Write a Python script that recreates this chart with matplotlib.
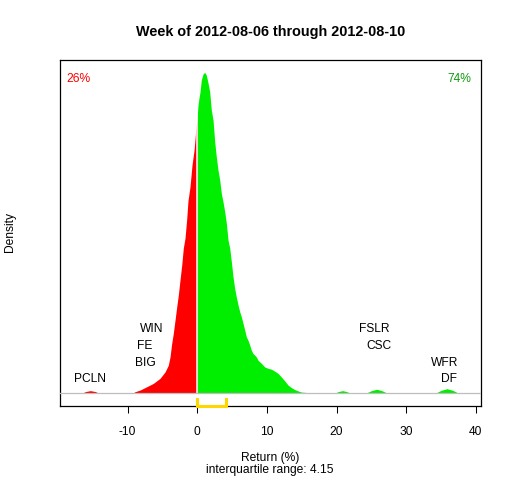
import matplotlib
matplotlib.use("Agg")
import matplotlib.pyplot as plt
import matplotlib.transforms as mtransforms
import numpy as np

plt.rcParams['font.family'] = ['Liberation Sans', 'DejaVu Sans']
plt.rcParams['axes.unicode_minus'] = False

# density of weekly returns
ret_x = [-17.55, -16.6, -16.0, -15.35, -14.7, -14.1, -9.3, -8.95, -8.23, -7.27,
         -6.32, -5.36, -4.64, -4.17, -3.92, -3.68, -3.45, -3.20, -2.96, -2.73,
         -2.49, -2.24, -2.01, -1.77, -1.52, -1.34, -1.05, -0.76, -0.47, -0.19,
         0.00, 0.10, 0.24, 0.39, 0.57, 0.82, 1.06, 1.29, 1.54, 1.78,
         2.01, 2.26, 2.50, 2.73, 2.97, 3.22, 3.45, 3.69, 3.94, 4.17,
         4.41, 4.66, 4.89, 5.13, 5.37, 5.60, 5.85, 6.09, 6.32, 6.57,
         6.81, 7.04, 7.28, 7.53, 7.76, 8.00, 8.25, 8.48, 8.72, 9.20,
         9.68, 10.16, 10.63, 11.12, 11.59, 12.07, 12.56, 13.03, 13.51, 13.99,
         14.47, 14.94, 15.9, 16.5, 19.7, 20.3, 20.85, 21.4, 22.0, 24.2,
         25.0, 25.76, 26.5, 27.3, 34.2, 35.0, 35.86, 36.7, 37.5, 38.5]
dens = [0.0, 0.0, 0.0006, 0.0009, 0.0006, 0.0, 0.0, 0.0005, 0.0011, 0.0023,
        0.0035, 0.0053, 0.0076, 0.0100, 0.0130, 0.0178, 0.0214, 0.0262, 0.0309, 0.0351,
        0.0405, 0.0459, 0.0520, 0.0555, 0.0625, 0.0690, 0.0740, 0.0818, 0.0871, 0.0950,
        0.0997, 0.1033, 0.1058, 0.1080, 0.1122, 0.1144, 0.1150, 0.1140, 0.1112, 0.1080,
        0.1015, 0.0979, 0.0901, 0.0847, 0.0800, 0.0764, 0.0716, 0.0686, 0.0650, 0.0609,
        0.0549, 0.0519, 0.0471, 0.0417, 0.0375, 0.0345, 0.0316, 0.0292, 0.0274, 0.0250,
        0.0226, 0.0202, 0.0190, 0.0172, 0.0154, 0.0142, 0.0136, 0.0130, 0.0118, 0.0107,
        0.0094, 0.0089, 0.0086, 0.0079, 0.0071, 0.0058, 0.0044, 0.0029, 0.0020, 0.0013,
        0.0008, 0.0004, 0.0002, 0.0, 0.0, 0.0006, 0.0009, 0.0006, 0.0, 0.0,
        0.0009, 0.0014, 0.0009, 0.0, 0.0, 0.0010, 0.0016, 0.0010, 0.0, 0.0]

# labelled stocks: return (%) and stacking row
tickers = ["PCLN", "BIG", "FE", "WIN", "FSLR", "CSC", "WFR", "DF"]
ticker_ret = [-15.42, -7.51, -7.61, -6.51, 25.43, 26.11, 35.49, 36.16]
ticker_row = [0, 1, 2, 3, 3, 2, 1, 0]

quartiles = [-0.10, 4.05]
pct_down = 26
pct_up = 74
title = "Week of 2012-08-06 through 2012-08-10"

x = np.array(ret_x)
d = np.array(dens)
ymax = d.max()

fig = plt.figure(figsize=(5.12, 4.8), dpi=100)
ax = fig.add_axes([59.5 / 512, 74 / 480, (481 - 59.5) / 512, (406 - 59.5) / 480])

ax.fill_between(x, 0, d, where=x <= 0, color="#FF0000", linewidth=0)
ax.fill_between(x, 0, d, where=x >= 0, color="#00EE00", linewidth=0)
ax.vlines(0, 0, ymax, color="white", lw=1.1, zorder=3)
ax.axhline(0, color="#BEBEBE", lw=0.9, zorder=4)

xr = x.max() - x.min()
ax.set_xlim(x.min() - 0.04 * xr, x.max() + 0.04 * xr)
ax.set_ylim(-0.04 * ymax, 1.04 * ymax)

# interquartile bracket
trans = mtransforms.blended_transform_factory(ax.transData, ax.transAxes)
q1, q3 = quartiles
ax.plot([q1, q1, q3, q3], [0.02, 0.0, 0.0, 0.02], color="#FFD700", lw=2.2,
        transform=trans, clip_on=False, zorder=6, solid_joinstyle="miter")

for name, r, row in zip(tickers, ticker_ret, ticker_row):
    ax.annotate(name, xy=(r, 0), xytext=(0, 7.7 + 12.0 * row), textcoords="offset points",
                ha="center", va="baseline", fontsize=8.64, color="black")

ax.text(0.017, 0.935, f"{pct_down}%", transform=ax.transAxes, ha="left", va="baseline",
        fontsize=8.64, color="#FF0000")
ax.text(0.977, 0.935, f"{pct_up}%", transform=ax.transAxes, ha="right", va="baseline",
        fontsize=8.64, color="#109A10")

ax.set_yticks([])
ax.set_xticks([-10, 0, 10, 20, 30, 40])
ax.tick_params(axis="x", length=5, width=0.75, pad=9.5, labelsize=8.64)
for sp in ax.spines.values():
    sp.set_linewidth(0.9)
    sp.set_color("black")

cx = (59.5 + 481) / 2 / 512
fig.text(cx, 1 - 36 / 480, title, ha="center", va="baseline", fontsize=10.4, fontweight="bold")
fig.text(cx, 1 - 460.7 / 480, "Return (%)", ha="center", va="baseline", fontsize=8.64)
fig.text(cx, 1 - 472.7 / 480, f"interquartile range: {q3 - q1:.2f}", ha="center",
         va="baseline", fontsize=8.64)
fig.text(10 / 512, 1 - 232 / 480, "Density", rotation=90, ha="center", va="center", fontsize=8.64)

fig.savefig("out.png", dpi=100)
